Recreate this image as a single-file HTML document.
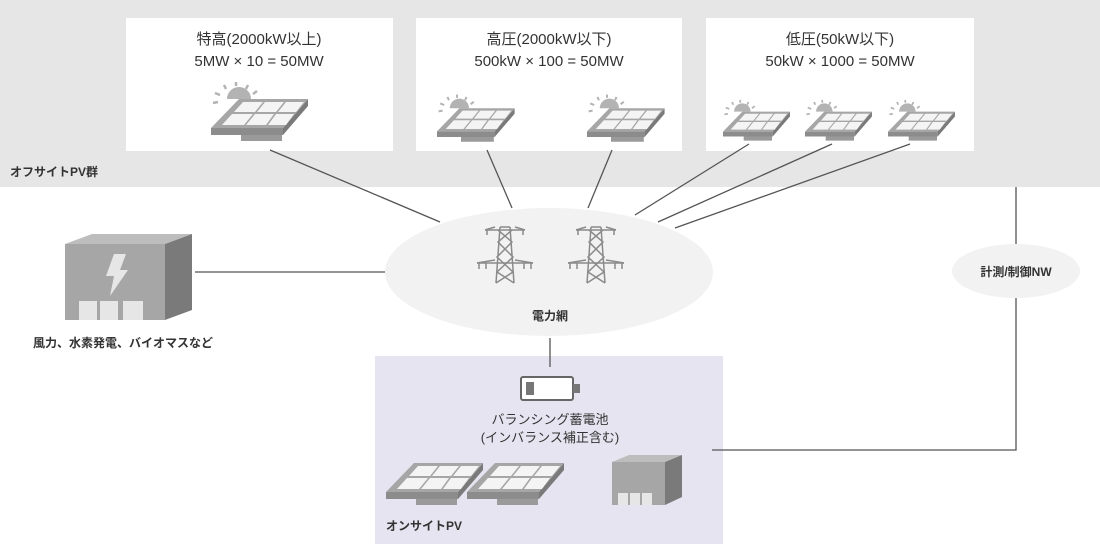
<!DOCTYPE html>
<html><head><meta charset="utf-8"><style>
html,body{margin:0;padding:0;background:#fff}
svg{display:block}
text{font-family:"Liberation Sans","Noto Sans CJK JP",sans-serif;fill:#333}
</style></head><body>
<svg width="1100" height="544" viewBox="0 0 1100 544" xmlns="http://www.w3.org/2000/svg">
<defs>
<g id="pnl">
<polygon points="0,43 72,43 72,50 0,50" fill="#8c8c8c"/>
<polygon points="97,14 97,21 72,50 72,43" fill="#7a7a7a"/>
<polygon points="30,50 71,50 71,56 30,56" fill="#9a9a9a"/>
<polygon points="28,14 97,14 72,43 0,43" fill="#a6a6a6"/>
<polygon points="32,17 52,17 44,27 23,27" fill="#f4f4f4"/>
<polygon points="54,17 73,17 65,27 46,27" fill="#f4f4f4"/>
<polygon points="75,17 93,17 85,27 67,27" fill="#f4f4f4"/>
<polygon points="21,29 42,29 33,40 11,40" fill="#f4f4f4"/>
<polygon points="44,29 63,29 55,40 35,40" fill="#f4f4f4"/>
<polygon points="65,29 83,29 75,40 57,40" fill="#f4f4f4"/>
</g>
<g id="sun">
<path d="M16,14 A12,12 0 0 1 40,14 Z" fill="#b3b3b3"/>
<g stroke="#b3b3b3" stroke-width="2.5">
<line x1="2" y1="18" x2="7" y2="17"/><line x1="4" y1="8" x2="9" y2="10"/>
<line x1="13" y1="0" x2="15" y2="4"/><line x1="25" y1="-3" x2="25" y2="1"/>
<line x1="37" y1="0" x2="35" y2="4"/><line x1="46" y1="6" x2="42" y2="9"/>
</g>
</g>
<g id="tower" stroke="#8a8a8a" stroke-width="1.5" fill="none">
<path d="M0,0 h10 M-15,3 h40 M-23,36 h56"/>
<path d="M-5,0 L-15,3 M15,0 L25,3 M-5,33 L-23,36 M15,33 L33,36"/>
<path d="M0,0 L-4,56 M10,0 L14,56 M-2,3 L12,15 L-3,30 L13,45 L-4,56 M12,3 L-2,15 L13,30 L-3,45 L14,56"/>
<path d="M-13,3 v5 M23,3 v5 M-21,36 v6 M-14,36 v6 M24,36 v6 M31,36 v6"/>
</g>
</defs>
<rect x="0" y="0" width="1100" height="187" fill="#e6e6e6"/>
<rect x="126" y="18" width="267" height="133" fill="#fff"/>
<rect x="416" y="18" width="266" height="133" fill="#fff"/>
<rect x="706" y="18" width="268" height="133" fill="#fff"/>
<g font-size="15" text-anchor="middle">
<text x="259" y="44">特高(2000kW以上)</text><text x="259" y="66">5MW × 10 = 50MW</text>
<text x="549" y="44">高圧(2000kW以下)</text><text x="549" y="66">500kW × 100 = 50MW</text>
<text x="840" y="44">低圧(50kW以下)</text><text x="840" y="66">50kW × 1000 = 50MW</text>
</g>
<text x="10" y="176" font-size="12" font-weight="bold">オフサイトPV群</text>
<rect x="375" y="356" width="348" height="188" fill="#e6e4f0"/>
<g stroke="#555" stroke-width="1.3">
<line x1="270" y1="150" x2="440" y2="222"/>
<line x1="487" y1="150" x2="512" y2="208"/>
<line x1="612" y1="150" x2="588" y2="208"/>
<line x1="749" y1="144" x2="635" y2="215"/>
<line x1="832" y1="144" x2="658" y2="222"/>
<line x1="910" y1="144" x2="675" y2="228"/>
<line x1="195" y1="272" x2="388" y2="272"/>
<line x1="550" y1="338" x2="550" y2="367"/>
<polyline points="1016,187 1016,245" fill="none"/>
<polyline points="1016,298 1016,450 712,450" fill="none"/>
</g>
<ellipse cx="549" cy="272" rx="164" ry="64" fill="#f2f2f2"/>
<ellipse cx="1016" cy="271" rx="64" ry="27" fill="#f2f2f2"/>
<text x="1016" y="276" font-size="12" font-weight="bold" text-anchor="middle">計測/制御NW</text>
<text x="550" y="320" font-size="12" font-weight="bold" text-anchor="middle">電力網</text>
<use href="#tower" x="500" y="227"/>
<use href="#tower" x="591" y="227"/>
<g transform="translate(211,85)"><use href="#sun"/><use href="#pnl"/></g>
<g transform="translate(437,97) scale(0.8)"><use href="#sun"/><use href="#pnl"/></g>
<g transform="translate(587,97) scale(0.8)"><use href="#sun"/><use href="#pnl"/></g>
<g transform="translate(723,102) scale(0.69)"><use href="#sun"/><use href="#pnl"/></g>
<g transform="translate(805,102) scale(0.69)"><use href="#sun"/><use href="#pnl"/></g>
<g transform="translate(888,102) scale(0.69)"><use href="#sun"/><use href="#pnl"/></g>
<g transform="translate(386,449)"><use href="#pnl"/></g>
<g transform="translate(467,449)"><use href="#pnl"/></g>
<polygon points="65,244 92,234 192,234 165,244" fill="#bdbdbd"/>
<polygon points="165,244 192,234 192,310 165,320" fill="#7a7a7a"/>
<rect x="65" y="244" width="100" height="76" fill="#a6a6a6"/>
<polygon points="114,254 126,254 120,270 128,270 110,296 114,276 106,276" fill="#e6e6e6"/>
<rect x="79" y="301" width="18" height="19" fill="#e6e6e6"/>
<rect x="100" y="301" width="18" height="19" fill="#e6e6e6"/>
<rect x="123" y="301" width="20" height="19" fill="#e6e6e6"/>
<text x="123" y="347" font-size="12" font-weight="bold" text-anchor="middle">風力、水素発電、バイオマスなど</text>
<rect x="521" y="377" width="52" height="23" rx="2" fill="#fff" stroke="#666" stroke-width="2"/>
<rect x="573" y="384" width="7" height="9" fill="#777"/>
<rect x="526" y="382" width="8" height="13" fill="#777"/>
<text x="550" y="424" font-size="13" text-anchor="middle" fill="#555">バランシング蓄電池</text>
<text x="550" y="442" font-size="13" text-anchor="middle" fill="#555">(インバランス補正含む)</text>
<polygon points="612,462 629,455 682,455 665,462" fill="#bdbdbd"/>
<polygon points="665,462 682,455 682,497 665,505" fill="#7a7a7a"/>
<rect x="612" y="462" width="53" height="43" fill="#a6a6a6"/>
<rect x="618" y="493" width="10" height="12" fill="#e6e6e6"/>
<rect x="630" y="493" width="10" height="12" fill="#e6e6e6"/>
<rect x="642" y="493" width="10" height="12" fill="#e6e6e6"/>
<text x="386" y="530" font-size="12" font-weight="bold">オンサイトPV</text>
</svg>
</body></html>
